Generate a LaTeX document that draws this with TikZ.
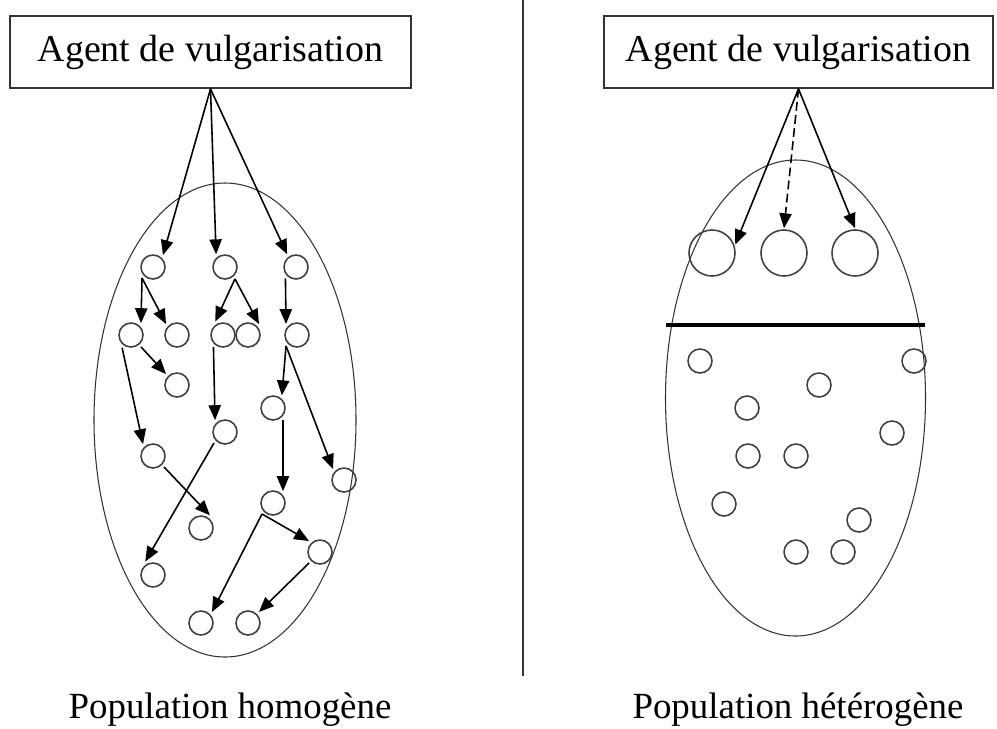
\documentclass[tikz,border=0pt]{standalone}
\usepackage{fontspec}
\setmainfont{Liberation Serif}
\usetikzlibrary{arrows.meta}

\begin{document}
\begin{tikzpicture}[x=0.02cm, y=-0.02cm,
    agentbox/.style={draw=black!80, line width=1pt, minimum height=1.44cm, inner sep=0pt, font=\fontsize{21.6}{26}\selectfont},
    dot/.style={circle, draw=black!75, line width=0.9pt, minimum size=0.48cm, inner sep=0pt, outer sep=2pt},
    bigdot/.style={circle, draw=black!75, line width=0.9pt, minimum size=0.92cm, inner sep=0pt, outer sep=1pt},
    arr/.style={-{Triangle[length=8.5pt,width=7pt]}, line width=0.9pt},
    lbl/.style={font=\fontsize{21}{25}\selectfont, anchor=base}]
      \useasboundingbox (0,0) rectangle (997,728);
      % left side
      \node[agentbox, minimum width=8.02cm] (agentL) at (210.5,52) {Agent de vulgarisation};
      \draw[line width=0.6pt, black!80] (225,420) ellipse [x radius=131, y radius=237];
      \node[dot] (a1) at (153,267) {};
      \node[dot] (a2) at (225,267) {};
      \node[dot] (a3) at (296,267) {};
      \node[dot] (b1) at (131,335) {};
      \node[dot] (b2) at (177,335) {};
      \node[dot] (b3) at (223,335) {};
      \node[dot] (b4) at (248,335) {};
      \node[dot] (b5) at (297,335) {};
      \node[dot] (c1) at (177,385) {};
      \node[dot] (c2) at (273,408) {};
      \node[dot] (c3) at (225,432) {};
      \node[dot] (c4) at (153,456) {};
      \node[dot] (c5) at (344,480) {};
      \node[dot] (c6) at (273,503) {};
      \node[dot] (c7) at (201,528) {};
      \node[dot] (c8) at (320,552) {};
      \node[dot] (c9) at (153,575) {};
      \node[dot] (c10) at (201,623) {};
      \node[dot] (c11) at (248,623) {};
      \draw[arr] (agentL.south) -- (a1.50);
      \draw[arr] (agentL.south) -- (a2.125);
      \draw[arr] (agentL.south) -- (a3.125);
      \draw[arr] (a1.-135) -- (b1.50);
      \draw[arr] (a1.-135) -- (b2.135);
      \draw[arr] (a2.-50) -- (b3.120);
      \draw[arr] (a2.-50) -- (b4.45);
      \draw[arr] (a3.-133) -- (b5.135);
      \draw[arr] (b1.-50) -- (c1.135);
      \draw[arr] (b1.-125) -- (c4.130);
      \draw[arr] (b3.-128) -- (c3.130);
      \draw[arr] (b5.-135) -- (c2.55);
      \draw[arr] (b5.-135) -- (c5.135);
      \draw[arr] (c2.-50) -- (c6.50);
      \draw[arr] (c4.-45) -- (c7.55);
      \draw[arr] (c3.-135) -- (c9.120);
      \draw[arr] (c6.-135) -- (c10.45);
      \draw[arr] (c6.-135) -- (c8.135);
      \draw[arr] (c8.-135) -- (c11.45);
      \node[lbl] (popL) at (230,718) {Population homogène};
      % divider
      \draw[line width=1.4pt, black!80] (523,0) -- (523,676);
      % right side
      \node[agentbox, minimum width=7.78cm] (agentR) at (798.5,52) {Agent de vulgarisation};
      \draw[line width=0.6pt, black!80] (795.5,398) ellipse [x radius=130, y radius=238];
      \draw[line width=2.4pt] (666,325) -- (925,325);
      \node[bigdot] (p1) at (712,253) {};
      \node[bigdot] (p2) at (784,253) {};
      \node[bigdot] (p3) at (855,253) {};
      \draw[arr] (agentR.south) -- (p1.20);
      \draw[arr, dash pattern=on 5pt off 2.5pt] (agentR.south) -- (p2.north);
      \draw[arr] (agentR.south) -- (p3.north);
      \node[dot] (q1) at (700,361) {};
      \node[dot] (q2) at (914,361) {};
      \node[dot] (q3) at (819,385) {};
      \node[dot] (q4) at (747,408) {};
      \node[dot] (q5) at (892,433) {};
      \node[dot] (q6) at (748,456) {};
      \node[dot] (q7) at (796,456) {};
      \node[dot] (q8) at (724,504) {};
      \node[dot] (q9) at (859,520) {};
      \node[dot] (q10) at (796,552) {};
      \node[dot] (q11) at (843,552) {};
      \node[lbl] (popR) at (798,718) {Population hétérogène};
    \end{tikzpicture}
\end{document}
